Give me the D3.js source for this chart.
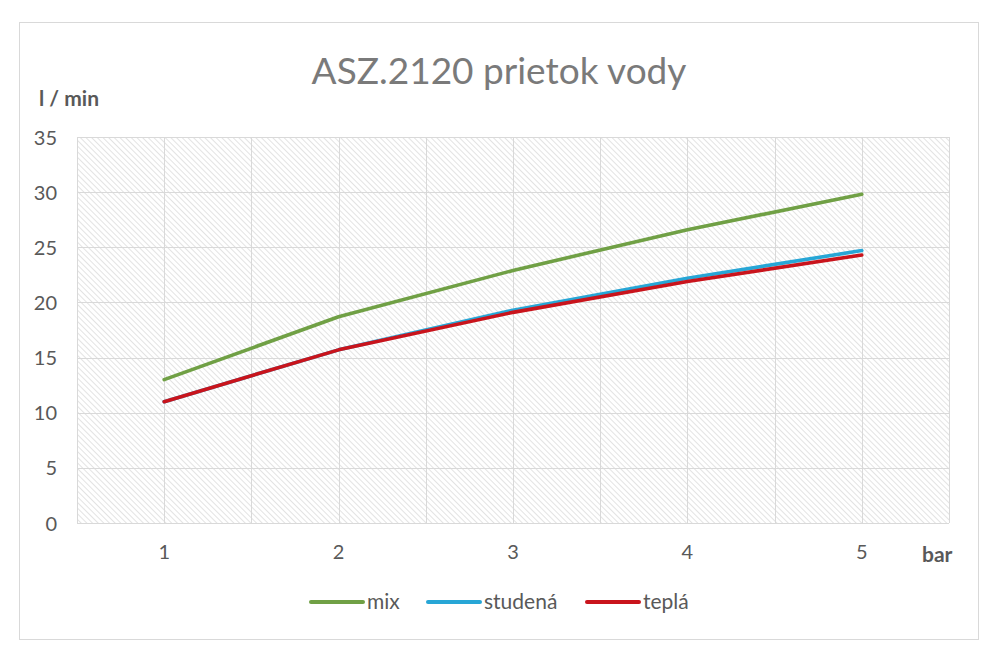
<!DOCTYPE html>
<html lang="sk">
<head>
<meta charset="UTF-8">
<title>ASZ.2120 prietok vody</title>
<script src="https://d3js.org/d3.v7.min.js"></script>
<style>
  body { margin: 0; background: #fff; font-family: Lato, 'Open Sans', sans-serif; }
  svg text { fill: #595959; font-family: Lato, 'Open Sans', sans-serif; }
</style>
</head>
<body>
<svg id="chart" width="1000" height="658"></svg>
<script>
// data
const categories = ["1", "2", "3", "4", "5"];
const yTicks = [0, 5, 10, 15, 20, 25, 30, 35];
const mix = [13.0, 18.7, 22.9, 26.6, 29.8];
const studena = [11.0, 15.7, 19.3, 22.2, 24.7];
const tepla = [11.0, 15.7, 19.1, 21.9, 24.3];

const series = [
    { name: "mix", values: mix, color: "#70a045" },
    { name: "studená", values: studena, color: "#27a6d6" },
    { name: "teplá", values: tepla, color: "#c9141c" }
];

const svg = d3.select("#chart");
const plotLeft = 77, plotRight = 949, plotTop = 137, plotBottom = 523;

// outer frame
svg.append("rect")
    .attr("x", 19.5).attr("y", 22.5)
    .attr("width", 959).attr("height", 617)
    .attr("fill", "#fff").attr("stroke", "#d9d9d9");

// hatched plot background (wide downward diagonal)
const defs = svg.append("defs");
const pat = defs.append("pattern")
    .attr("id", "hatch")
    .attr("patternUnits", "userSpaceOnUse")
    .attr("width", 4).attr("height", 4)
    .attr("patternTransform", "rotate(45)");
pat.append("rect").attr("width", 4).attr("height", 4).attr("fill", "#fff");
pat.append("line").attr("x1", 0).attr("y1", 0).attr("x2", 4).attr("y2", 0)
    .attr("stroke", "#e0e0e0").attr("stroke-width", 1.8);

svg.append("rect")
    .attr("x", plotLeft).attr("y", plotTop)
    .attr("width", plotRight - plotLeft).attr("height", plotBottom - plotTop)
    .attr("fill", "url(#hatch)");

const x = d3.scaleBand().domain(categories).range([plotLeft, plotRight]);
const y = d3.scaleLinear().domain([0, 35]).range([plotBottom, plotTop]);
const cx = d => x(d) + x.bandwidth() / 2;

// gridlines
const grid = svg.append("g").attr("stroke", "#d9d9d9").attr("stroke-width", 1);
yTicks.forEach(t => {
    grid.append("line")
        .attr("x1", plotLeft).attr("x2", plotRight)
        .attr("y1", Math.round(y(t)) + 0.5).attr("y2", Math.round(y(t)) + 0.5);
});
const vLines = [];
categories.forEach(c => { vLines.push(x(c)); vLines.push(cx(c)); });
vLines.push(plotRight);
vLines.forEach(v => {
    grid.append("line")
        .attr("x1", Math.round(v) + 0.5).attr("x2", Math.round(v) + 0.5)
        .attr("y1", plotTop).attr("y2", plotBottom);
});

// y axis
const yAxis = svg.append("g")
    .attr("transform", `translate(${plotLeft - 20},0)`)
    .call(d3.axisLeft(y).tickValues(yTicks).tickSize(0).tickPadding(0));
yAxis.attr("font-family", null);
yAxis.select(".domain").remove();
yAxis.selectAll("text").style("font-size", "20px").attr("dy", "0.35em");

// x axis
const xAxis = svg.append("g")
    .attr("transform", `translate(0,${plotBottom})`)
    .call(d3.axisBottom(x).tickSize(0).tickPadding(22));
xAxis.attr("font-family", null);
xAxis.select(".domain").remove();
xAxis.selectAll("text").style("font-size", "20px");

// axis titles
svg.append("text").attr("x", 39).attr("y", 106)
    .style("font-size", "21px").style("font-weight", "bold").text("l / min");
svg.append("text").attr("x", 922).attr("y", 562)
    .style("font-size", "21px").style("font-weight", "bold").text("bar");

// title
svg.append("text").attr("x", 499).attr("y", 84)
    .attr("text-anchor", "middle")
    .style("font-size", "37px").style("fill", "#7a7a7a")
    .text("ASZ.2120 prietok vody");

// lines
const line = d3.line()
    .x((d, i) => cx(categories[i]))
    .y(d => y(d));
series.forEach(s => {
    svg.append("path")
        .datum(s.values)
        .attr("fill", "none")
        .attr("stroke", s.color)
        .attr("stroke-width", 3.6)
        .attr("stroke-linejoin", "round")
        .attr("stroke-linecap", "round")
        .attr("d", line);
});

// legend
const legendX = [311, 428, 587];
series.forEach((s, i) => {
    const g = svg.append("g").attr("transform", `translate(${legendX[i]},602)`);
    g.append("line").attr("x1", 0).attr("x2", 52).attr("y1", 0).attr("y2", 0)
        .attr("stroke", s.color).attr("stroke-width", 4).attr("stroke-linecap", "round");
    g.append("text").attr("x", 56).attr("y", 0).attr("dy", "0.35em")
        .style("font-size", "21px").text(s.name);
});
</script>
</body>
</html>
